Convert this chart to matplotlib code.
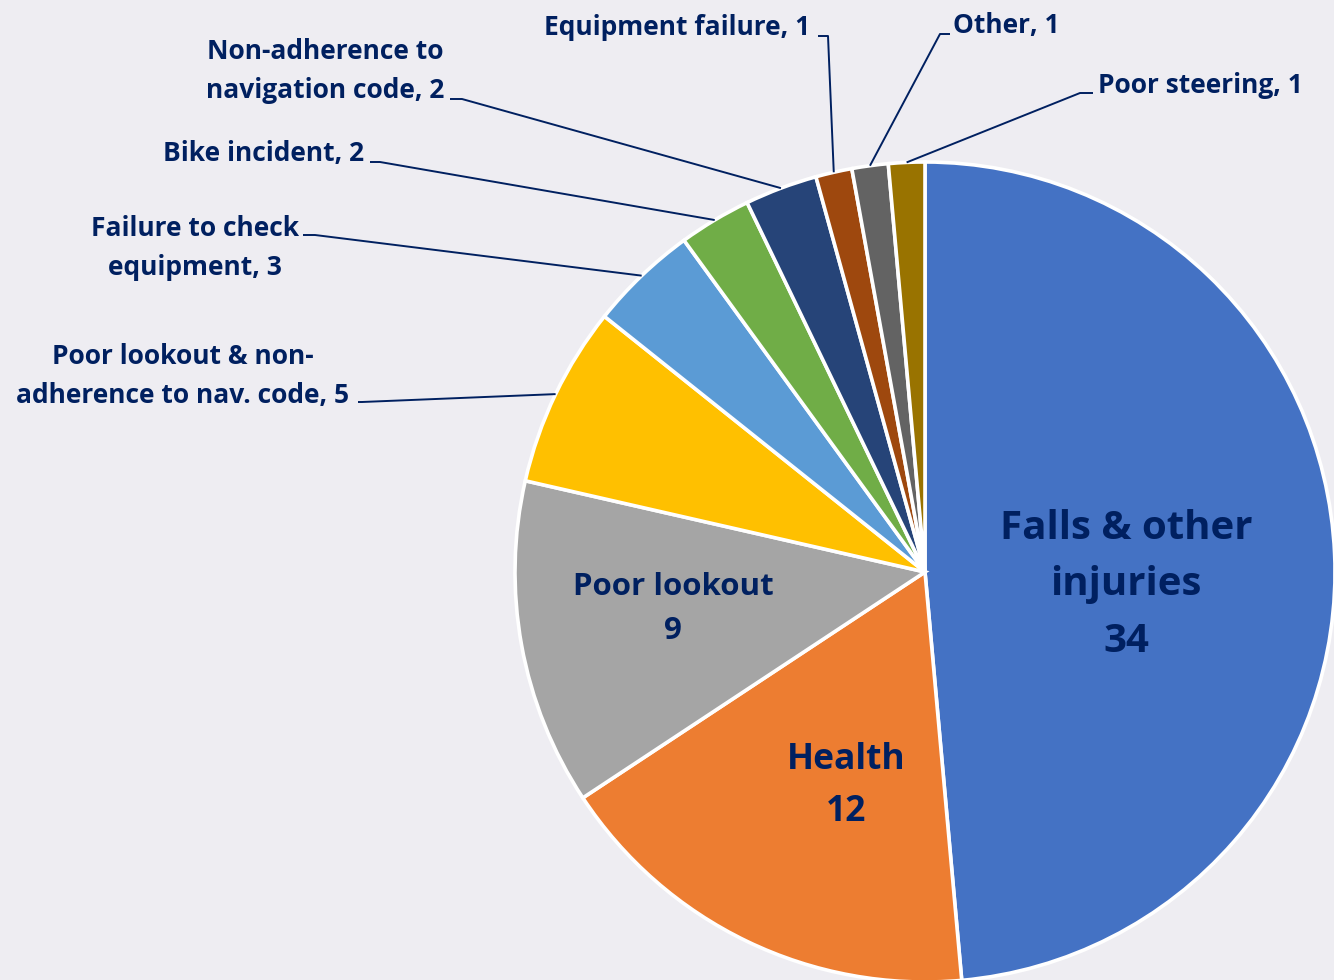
import numpy as np
import matplotlib.pyplot as plt

plt.rcParams['font.family'] = ['Open Sans', 'DejaVu Sans']

# data
labels = ['Falls & other injuries', 'Health', 'Poor lookout',
          'Poor lookout & non-adherence to nav. code', 'Failure to check equipment',
          'Bike incident', 'Non-adherence to navigation code', 'Equipment failure',
          'Other', 'Poor steering']
values = [34, 12, 9, 5, 3, 2, 2, 1, 1, 1]
colors = ['#4472C4', '#ED7D31', '#A5A5A5', '#FFC000', '#5B9BD5',
          '#70AD47', '#264478', '#9E480E', '#636363', '#997300']

# label texts
inside_text = {0: 'Falls & other\ninjuries\n34', 1: 'Health\n12', 2: 'Poor lookout\n9'}
outside_text = {
    3: 'Poor lookout & non-\nadherence to nav. code, 5',
    4: 'Failure to check\nequipment, 3',
    5: 'Bike incident, 2',
    6: 'Non-adherence to\nnavigation code, 2',
    7: 'Equipment failure, 1',
    8: 'Other, 1',
    9: 'Poor steering, 1',
}

W, H = 1334, 980
txt_col = '#002060'
bg = '#EEEDF2'

fig = plt.figure(figsize=(W / 100, H / 100), dpi=100, facecolor=bg)
ax = fig.add_axes([0, 0, 1, 1])

cx, cy, r = 925, H - 572, 410
wedges, _ = ax.pie(values, colors=colors, startangle=90, counterclock=False,
                   center=(cx, cy), radius=r, frame=True,
                   wedgeprops=dict(edgecolor='white', linewidth=2.6))
ax.set_xlim(0, W)
ax.set_ylim(0, H)
ax.set_aspect('equal')
ax.axis('off')

# inside labels: (x, y top-down px), size
inside_pos = {0: (1126, 585, 29), 1: (846, 786, 25.5), 2: (673, 609, 22.5)}
for i, t in inside_text.items():
    x, y, fs = inside_pos[i]
    ax.text(x, H - y, t, ha='center', va='center', fontsize=fs,
            fontweight='bold', color=txt_col, linespacing=1.58)

# outside labels: text anchor, elbow start, elbow end
out_pos = {
    3: ((183, 376), (358, 402), (362, 402)),
    4: ((195, 248), (303, 235), (315, 235)),
    5: ((264, 154), (370, 162), (380, 162)),
    6: ((325, 71), (450, 99), (462, 99)),
    7: ((677, 28), (818, 36), (828, 36)),
    8: ((1006, 26), (950, 34), (940, 34)),
    9: ((1200, 86), (1093, 93), (1080, 93)),
}
for i, t in outside_text.items():
    (tx, ty), p0, p1 = out_pos[i]
    ax.text(tx, H - ty, t, ha='center', va='center', fontsize=19,
            fontweight='bold', color=txt_col, linespacing=1.55)
    w = wedges[i]
    mid = np.deg2rad((w.theta1 + w.theta2) / 2)
    ex, ey = cx + r * np.cos(mid), cy + r * np.sin(mid)
    ax.plot([p0[0], p1[0], ex], [H - p0[1], H - p1[1], ey],
            color=txt_col, lw=1.4, solid_capstyle='butt')

fig.savefig('out.png', dpi=100, facecolor=bg)
